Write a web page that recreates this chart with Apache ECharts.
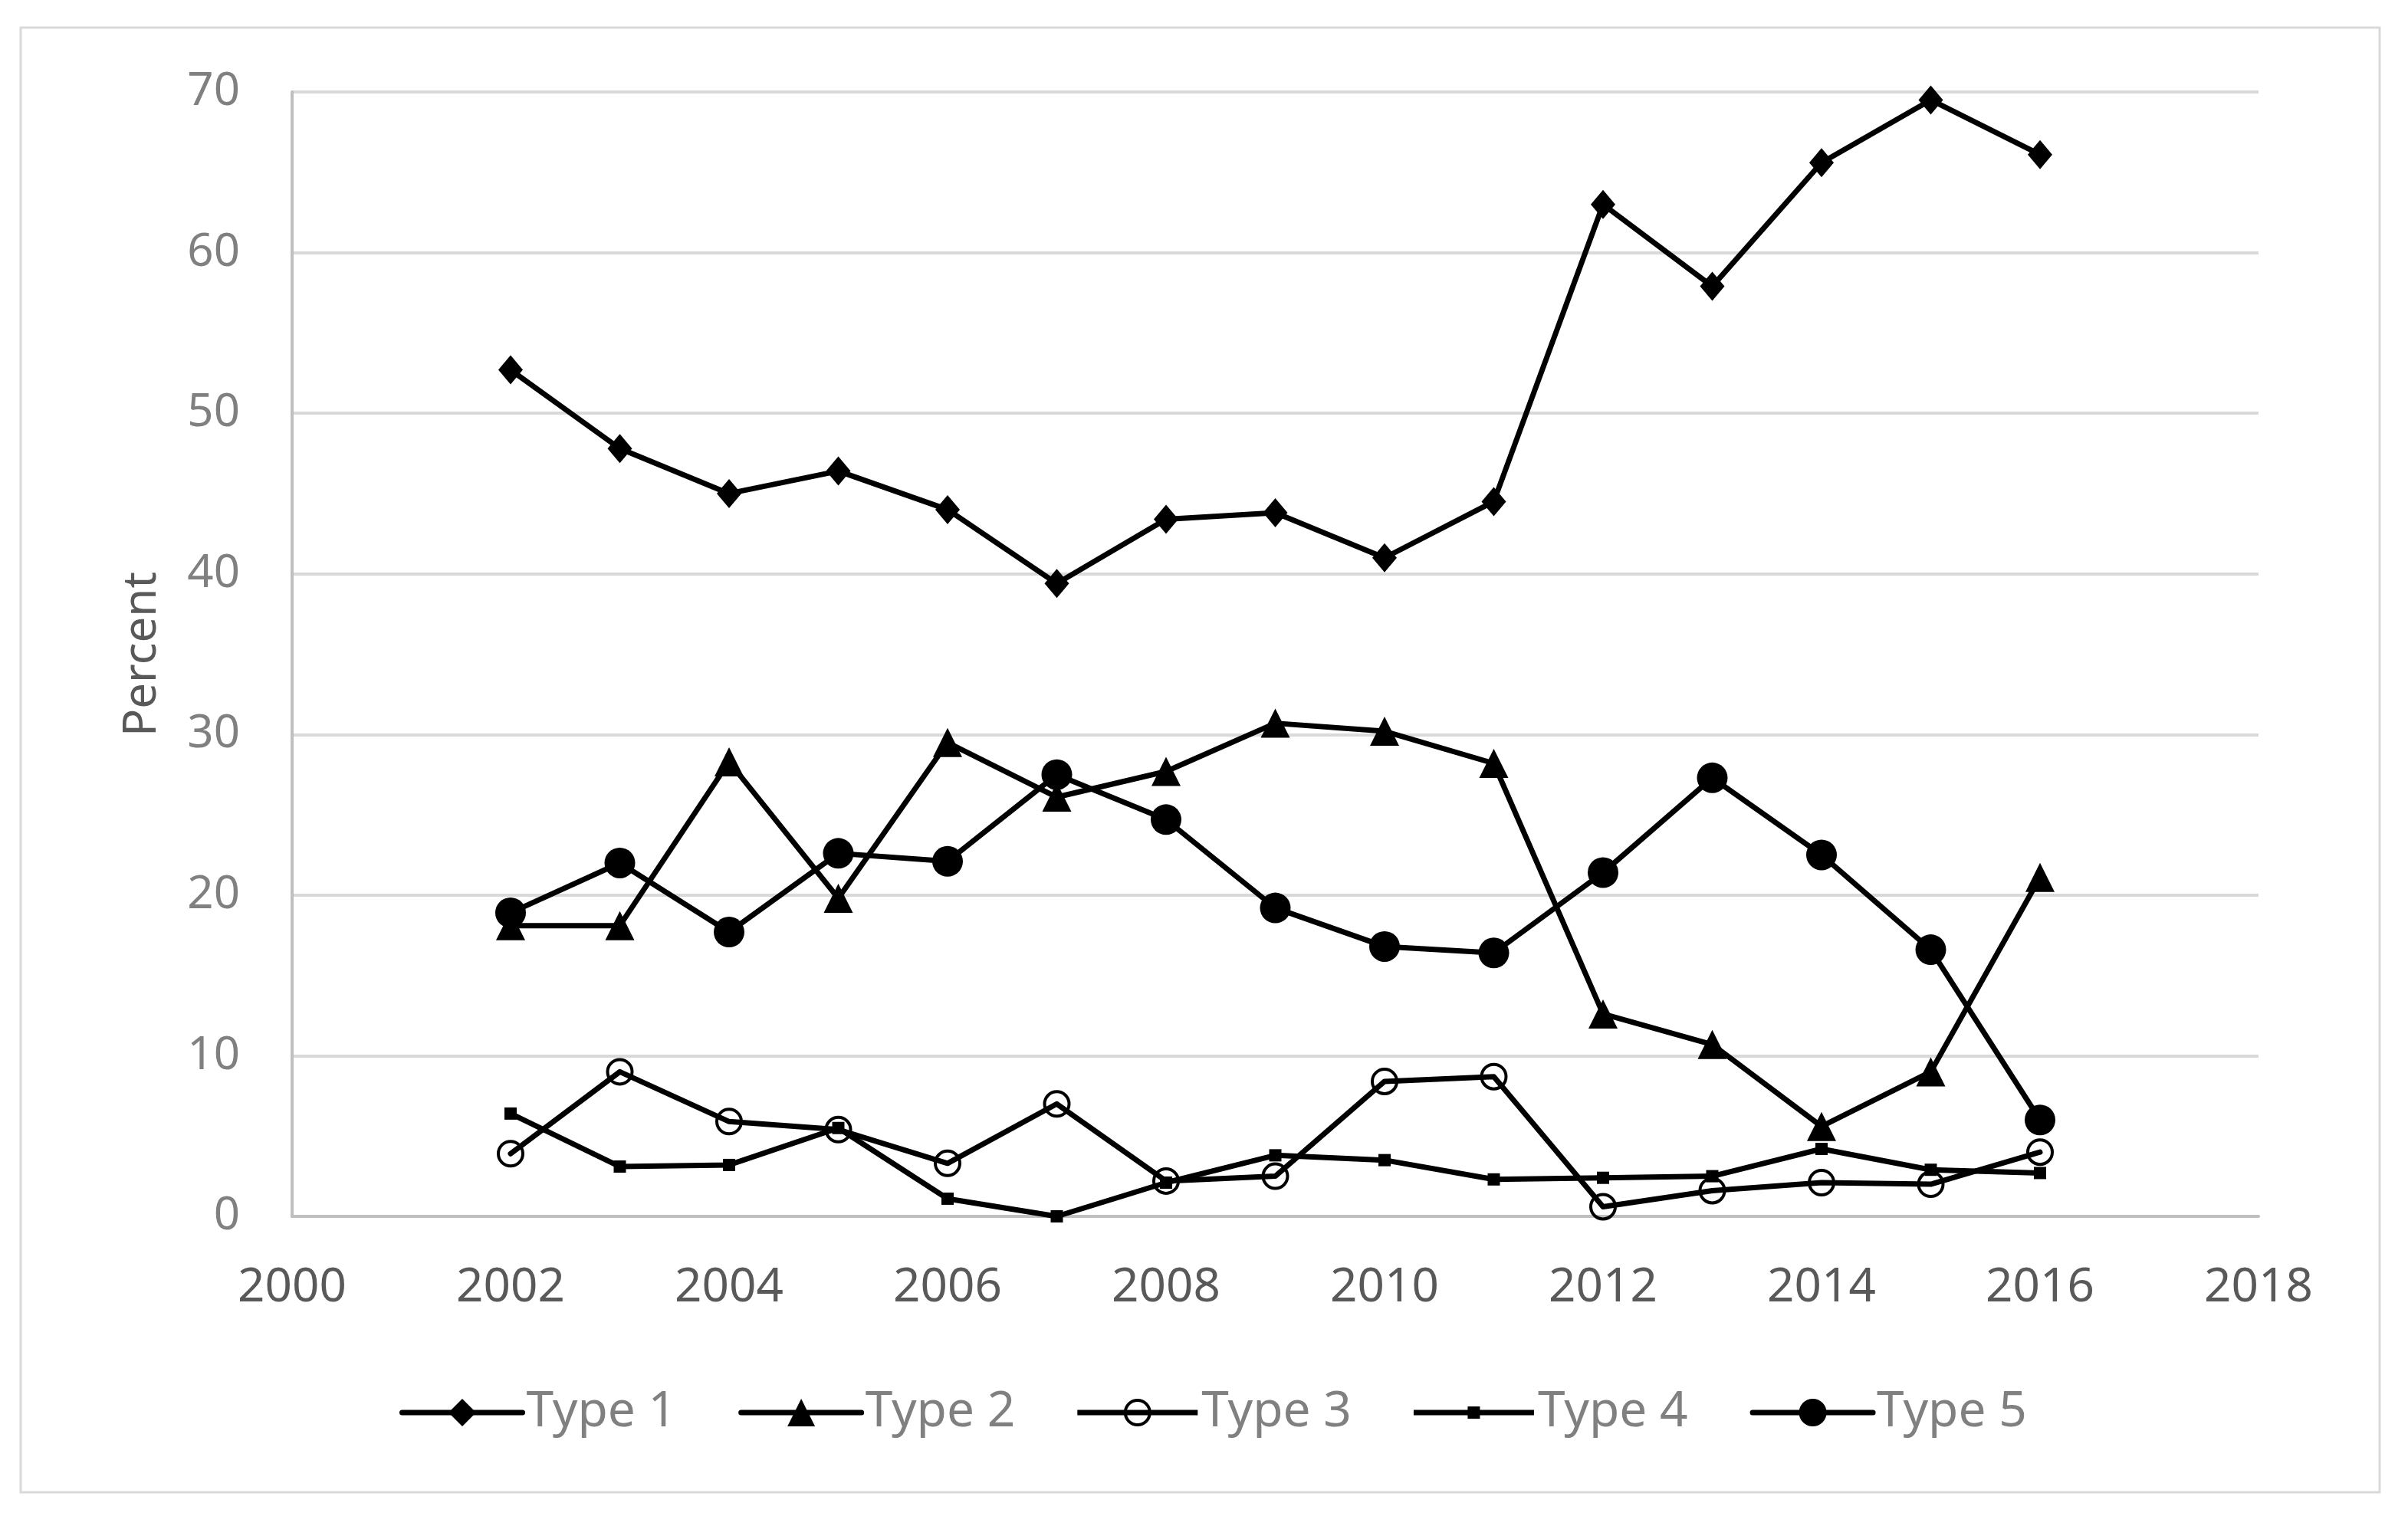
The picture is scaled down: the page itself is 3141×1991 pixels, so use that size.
<!DOCTYPE html>
<html>
<head>
<meta charset="utf-8">
<title>Percent by type, 2002-2016</title>
<script src="https://cdn.jsdelivr.net/npm/echarts/dist/echarts.min.js"></script>
<style>
  html, body { margin: 0; padding: 0; background: #fff; }
  #chart { width: 3141px; height: 1991px; }
</style>
</head>
<body>
<div id="chart"></div>
<script>
// data
var years = [2002, 2003, 2004, 2005, 2006, 2007, 2008, 2009, 2010, 2011, 2012, 2013, 2014, 2015, 2016]
var type1 = [52.7, 47.8, 45.0, 46.4, 44.0, 39.4, 43.4, 43.8, 41.0, 44.5, 63.0, 57.9, 65.6, 69.5, 66.1]
var type2 = [18.1, 18.1, 28.3, 19.8, 29.5, 26.1, 27.7, 30.7, 30.2, 28.2, 12.6, 10.7, 5.6, 9.0, 21.1]
var type3 = [3.9, 9.0, 5.9, 5.4, 3.3, 7.0, 2.2, 2.5, 8.4, 8.7, 0.6, 1.6, 2.1, 2.0, 4.0]
var type4 = [6.4, 3.1, 3.2, 5.5, 1.1, 0.0, 2.1, 3.8, 3.5, 2.3, 2.4, 2.5, 4.2, 2.9, 2.7]
var type5 = [18.9, 22.0, 17.7, 22.6, 22.1, 27.5, 24.7, 19.2, 16.8, 16.4, 21.4, 27.3, 22.5, 16.6, 6.0]

var font = '"Noto Sans", "Open Sans", sans-serif'

// key icons for the open circle and the small square (line drawn through them)
var ringIcon = 'path://M0,14.5H157V21.5H0Z' +
  'M60.5,18A18,18 0 1,1 96.5,18A18,18 0 1,1 60.5,18Z' +
  'M64.5,18A14,14 0 1,0 92.5,18A14,14 0 1,0 64.5,18Z'
var squareIcon = 'path://M0,4.5H157V11.5H0Z M70.5,0H86.5V16H70.5Z'

function pairs (values) {
  return years.map(function (y, i) { return [y, values[i]] })
}

function makeSeries (name, values, symbol, size, itemStyle) {
  return {
    name: name,
    type: 'line',
    data: pairs(values),
    symbol: symbol,
    symbolSize: size,
    lineStyle: { color: '#000', width: 7, cap: 'round', join: 'round' },
    itemStyle: itemStyle || { color: '#000' }
  }
}

var chart = echarts.init(document.getElementById('chart'))
var option = {
  animation: false,
  backgroundColor: '#fff',
  graphic: [{
    type: 'rect',
    shape: { x: 27, y: 36, width: 3077, height: 1911 },
    style: { fill: 'none', stroke: '#d9d9d9', lineWidth: 3 },
    silent: true
  }],
  grid: {
    left: 381,
    right: 195,
    top: 120,
    bottom: 404
  },
  legend: {
    data: [
      'Type 1',
      'Type 2',
      { name: 'Type 3', icon: ringIcon, itemStyle: { color: '#000', borderWidth: 0 } },
      { name: 'Type 4', icon: squareIcon },
      'Type 5'
    ],
    left: 516,
    top: 1806,
    itemWidth: 157,
    itemHeight: 45,
    itemGap: 81,
    lineStyle: { width: 7, cap: 'round' },
    textStyle: { color: '#808080', fontSize: 64, fontFamily: font }
  },
  xAxis: {
    type: 'value',
    min: 2000,
    max: 2018,
    interval: 2,
    axisLine: { show: true, lineStyle: { color: '#bfbfbf', width: 4 } },
    axisTick: { show: false },
    splitLine: { show: false },
    axisLabel: {
      color: '#595959',
      fontSize: 62,
      fontFamily: font,
      margin: 62,
      formatter: function (v) { return String(v) }
    }
  },
  yAxis: {
    type: 'value',
    min: 0,
    max: 70,
    interval: 10,
    name: 'Percent',
    nameLocation: 'middle',
    nameGap: 165,
    nameRotate: 90,
    nameTextStyle: { color: '#595959', fontSize: 60, fontFamily: font },
    axisLine: { show: true, lineStyle: { color: '#bfbfbf', width: 4 } },
    axisTick: { show: false },
    splitLine: { lineStyle: { color: '#d9d9d9', width: 4 } },
    axisLabel: { color: '#808080', fontSize: 60, fontFamily: font, margin: 68 }
  },
  series: [
    makeSeries('Type 1', type1, 'diamond', [32, 38]),
    makeSeries('Type 2', type2, 'triangle', 38),
    makeSeries('Type 3', type3, 'circle', 32, { color: 'rgba(0,0,0,0)', borderColor: '#000', borderWidth: 4 }),
    makeSeries('Type 4', type4, 'rect', 16),
    makeSeries('Type 5', type5, 'circle', 40)
  ]
}
chart.setOption(option)
</script>
</body>
</html>
